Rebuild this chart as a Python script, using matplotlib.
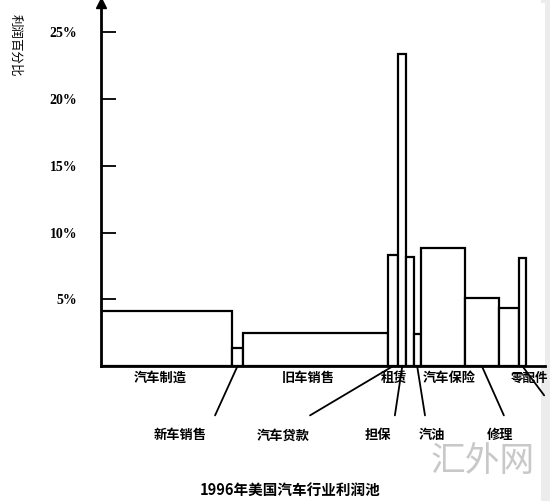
import matplotlib
matplotlib.use("Agg")
import matplotlib.pyplot as plt
import numpy as np

plt.rcParams["font.family"] = ["Noto Sans CJK SC", "DejaVu Sans"]

segments = ["汽车制造", "新车销售", "旧车销售", "汽车贷款", "担保", "租赁",
            "汽油", "汽车保险", "修理", "零配件", "其他"]
revenue_share = [30.9, 2.6, 34.2, 2.4, 1.9, 1.7, 1.7, 10.4, 8.0, 4.7, 1.7]
margin = [4.1, 1.35, 2.5, 8.3, 23.4, 8.2, 2.4, 8.85, 5.1, 4.35, 8.1]
y_ticks = [5, 10, 15, 20, 25]
y_tick_labels = ["5%", "10%", "15%", "20%", "25%"]

# labels right below the axis, and the ones hanging lower with leader lines
upper_labels = ["汽车制造", "旧车销售", "租赁", "汽车保险", "零配件"]
lower_labels = ["新车销售", "汽车贷款", "担保", "汽油", "修理"]

left = np.concatenate([[0], np.cumsum(revenue_share)[:-1]])
centers = left + np.array(revenue_share) / 2
seg_center = dict(zip(segments, centers))

fig = plt.figure(figsize=(5.5, 5.01), dpi=100)
ax = fig.add_axes([101 / 550, 135 / 501, 444 / 550, 363 / 501])
ax.set_xlim(0, 104.7)
ax.set_ylim(0, 27.2)

ax.bar(left, margin, width=revenue_share, align="edge",
       facecolor="white", edgecolor="black", linewidth=1.6)

for s in ["top", "right"]:
    ax.spines[s].set_visible(False)
ax.spines["left"].set_linewidth(2)
ax.spines["bottom"].set_linewidth(2)
ax.plot(0, 1, marker="^", color="black", markersize=7,
        transform=ax.transAxes, clip_on=False)

ax.set_xticks([])
ax.set_yticks(y_ticks)
ax.set_yticklabels(y_tick_labels, fontfamily="Liberation Serif",
                   fontweight="bold", fontsize=10)
ax.tick_params(axis="y", direction="in", length=11, width=1.3, pad=17)

# upper row of segment names
upper_x = [13.9, 49.0, 69.0, 82.0]
for name, x in zip(upper_labels[:-1], upper_x):
    ax.text(x, -0.9, name, ha="center", va="center", fontsize=9.5,
            fontweight="bold", clip_on=False)
ax.text(96.6, -0.9, upper_labels[-1], ha="left", va="center", fontsize=9,
        fontweight="bold", clip_on=False)

# lower row with leader lines
lower_x = [18.6, 42.9, 65.3, 78.1, 94.1]
line_start = [26.9, 49.3, 69.3, 76.4, 95.0]
for name, x, xs in zip(lower_labels, lower_x, line_start):
    ax.text(x, -5.2, name, ha="center", va="center", fontsize=9.5,
            fontweight="bold", clip_on=False)
    ax.annotate("", xy=(seg_center[name], 0), xytext=(xs, -3.7),
                arrowprops=dict(arrowstyle="-", color="black", lw=1.3,
                                shrinkA=0, shrinkB=0),
                annotation_clip=False)
ax.annotate("", xy=(seg_center["其他"], 0), xytext=(104.5, -2.2),
            arrowprops=dict(arrowstyle="-", color="black", lw=1.3,
                            shrinkA=0, shrinkB=0),
            annotation_clip=False)

fig.text(15 / 550, 1 - 45 / 501, "利润百分比", rotation=-90, ha="center",
         va="center", fontsize=9)
fig.text(290 / 550, 1 - 490 / 501, "1996年美国汽车行业利润池", ha="center",
         va="center", fontsize=10.5, fontweight="bold")
fig.text(483 / 550, 1 - 462 / 501, "汇外网", ha="center", va="center",
         fontsize=25, color="#c8c8c8")
fig.patches.append(plt.Rectangle((541 / 550, 0), 9 / 550, 1,
                                 transform=fig.transFigure,
                                 facecolor="#ececec", edgecolor="none",
                                 zorder=-1))

fig.savefig("out.png", dpi=100)
